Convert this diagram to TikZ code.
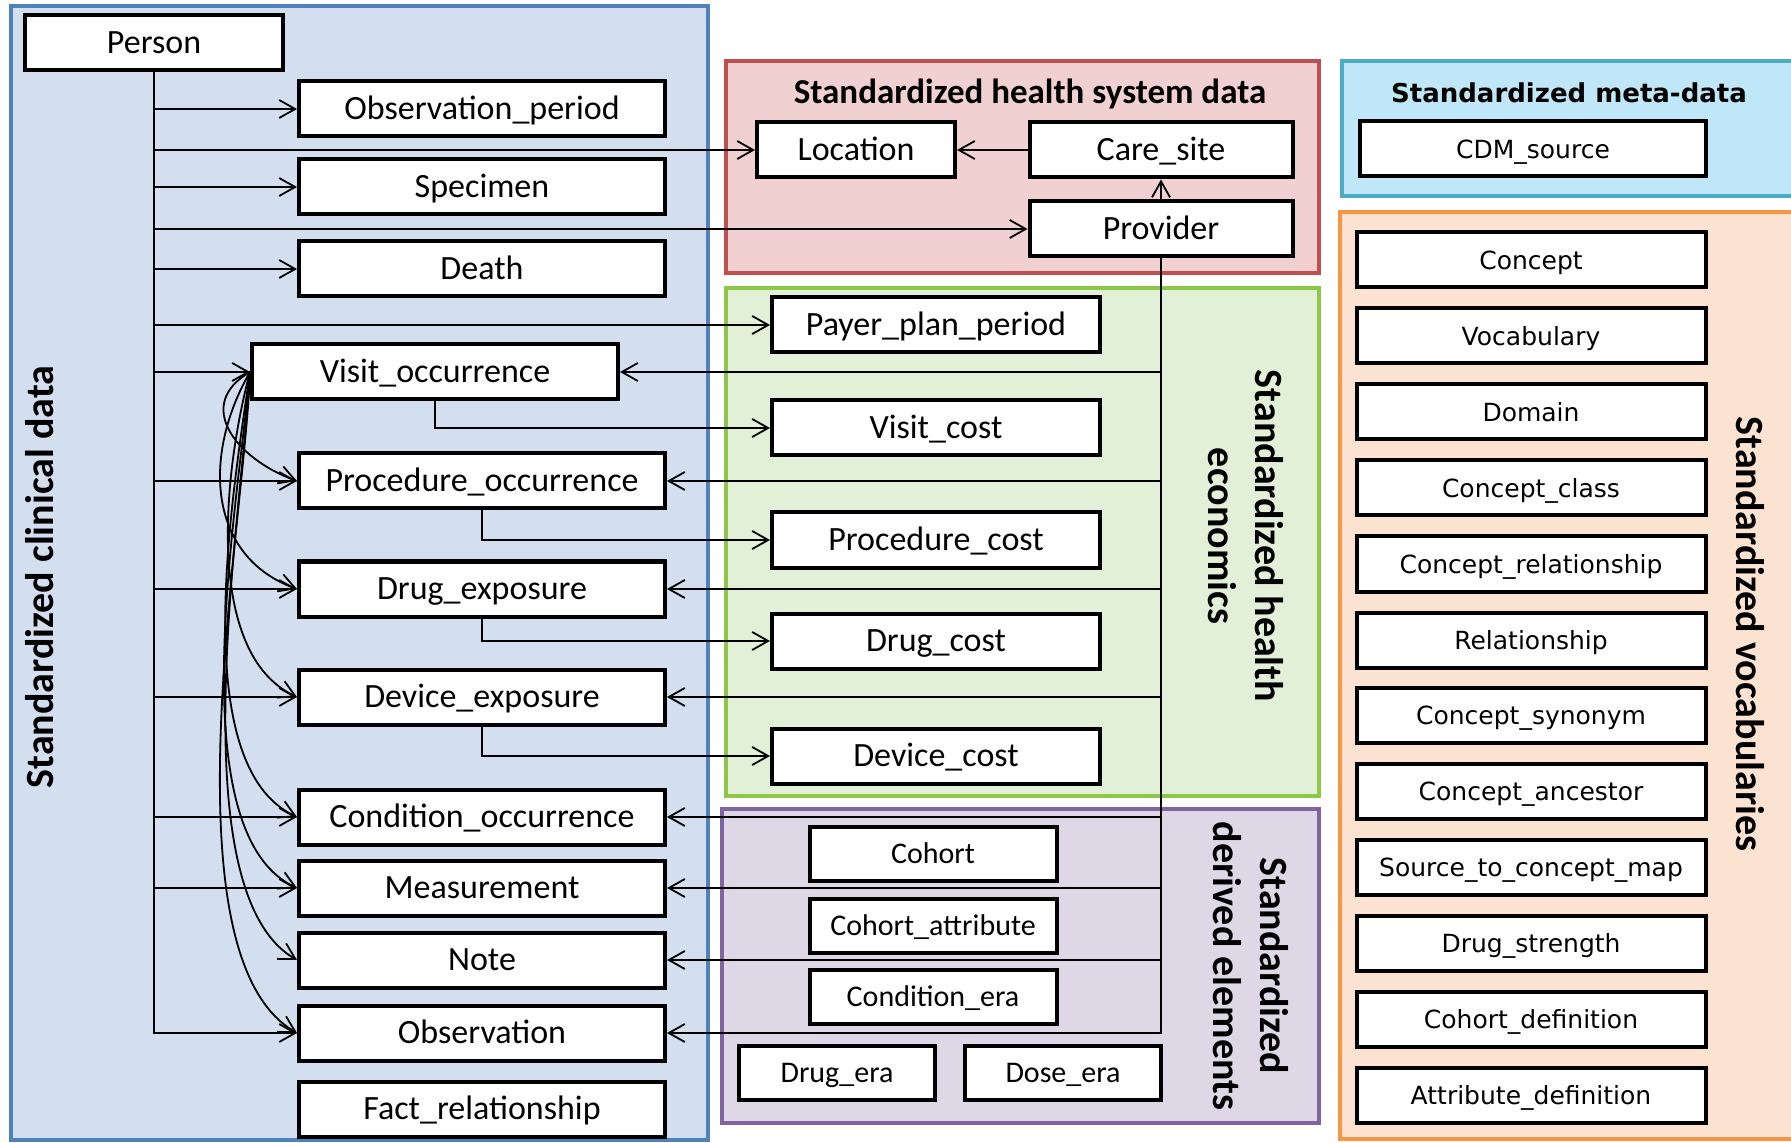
\documentclass[tikz,border=0pt]{standalone}
\usepackage{fontspec}
\setmainfont{Carlito}
\newfontfamily\vocabfont{DejaVu Sans}
\usetikzlibrary{arrows.meta}

\definecolor{clinfill}{RGB}{211,222,238}
\definecolor{clinline}{RGB}{79,129,189}
\definecolor{sysfill}{RGB}{241,208,210}
\definecolor{sysline}{RGB}{192,80,77}
\definecolor{econfill}{RGB}{227,240,216}
\definecolor{econline}{RGB}{140,200,70}
\definecolor{derivfill}{RGB}{221,215,230}
\definecolor{derivline}{RGB}{128,100,162}
\definecolor{metafill}{RGB}{191,231,247}
\definecolor{metaline}{RGB}{75,172,198}
\definecolor{vocabfill}{RGB}{252,227,209}
\definecolor{vocabline}{RGB}{247,150,70}

\begin{document}
\begin{tikzpicture}[x=0.5pt, y=-0.5pt,
    tbl/.style={draw, line width=2pt, fill=white, inner sep=0pt, minimum width=183pt, minimum height=27.5pt, text height=14.3pt, text depth=3.4pt, font=\fontsize{17}{20}\selectfont},
    costtbl/.style={tbl, minimum width=164pt},
    derivtbl/.style={tbl, minimum width=123.5pt, minimum height=27pt, text height=12.6pt, text depth=3pt, font=\fontsize{15}{18}\selectfont},
    voctbl/.style={tbl, minimum width=174.5pt, text height=12.1pt, text depth=3pt, font=\fontsize{12.5}{15}\vocabfont},
    link/.style={line width=0.9pt, -{Straight Barb[length=8pt,width=9pt]}},
    panel/.style={line width=1.9pt},
    grouptitle/.style={font=\fontsize{17.5}{21}\selectfont\bfseries},
    sidetitle/.style={font=\fontsize{20}{23.5}\selectfont\bfseries, align=center}]

    \useasboundingbox (0,0) rectangle (1791,1143);
    \clip (0,0) rectangle (1791,1143);

    % panels
    \draw[panel, clinline, fill=clinfill] (11,6) rectangle (708,1140);
    \draw[panel, sysline, fill=sysfill] (726,61) rectangle (1319,273);
    \draw[panel, econline, fill=econfill] (726,288) rectangle (1319,796);
    \draw[panel, derivline, fill=derivfill] (722,809) rectangle (1319,1123);
    \draw[panel, metaline, fill=metafill] (1342,61) rectangle (1800,196);
    \draw[panel, vocabline, fill=vocabfill] (1340,212) rectangle (1800,1139);

    \node[sidetitle, rotate=90] (clintitle) at (40,577) {Standardized clinical data};
    \node[grouptitle] (systitle) at (1030,94) {Standardized health system data};
    \node[sidetitle, rotate=-90] (econtitle) at (1246,536) {Standardized health\\economics};
    \node[sidetitle, rotate=-90] (derivtitle) at (1251,966) {Standardized\\derived elements};
    \node[font=\fontsize{13}{16}\vocabfont\bfseries] (metatitle) at (1569,93) {Standardized meta-data};
    \node[sidetitle, rotate=-90] (vocabtitle) at (1750,634) {Standardized vocabularies};

    % clinical data
    \node[tbl, minimum width=129pt] (person) at (154,43) {Person};
    \node[tbl] (obsperiod) at (482,109) {Observation\_period};
    \node[tbl] (specimen) at (482,187) {Specimen};
    \node[tbl] (death) at (482,269) {Death};
    \node[tbl] (visit) at (435,372) {Visit\_occurrence};
    \node[tbl] (proc) at (482,481) {Procedure\_occurrence};
    \node[tbl] (drug) at (482,589) {Drug\_exposure};
    \node[tbl] (device) at (482,697) {Device\_exposure};
    \node[tbl] (cond) at (482,817) {Condition\_occurrence};
    \node[tbl] (meas) at (482,888) {Measurement};
    \node[tbl] (note) at (482,960) {Note};
    \node[tbl] (obs) at (482,1033) {Observation};
    \node[tbl] (fact) at (482,1109) {Fact\_relationship};

    % health system
    \node[tbl, minimum width=99pt] (location) at (856,150) {Location};
    \node[tbl, minimum width=131.5pt] (caresite) at (1161,150) {Care\_site};
    \node[tbl, minimum width=131.5pt] (provider) at (1161,229) {Provider};

    % health economics
    \node[costtbl] (payer) at (936,325) {Payer\_plan\_period};
    \node[costtbl] (visitcost) at (936,428) {Visit\_cost};
    \node[costtbl] (proccost) at (936,540) {Procedure\_cost};
    \node[costtbl] (drugcost) at (936,641) {Drug\_cost};
    \node[costtbl] (devicecost) at (936,756) {Device\_cost};

    % derived elements
    \node[derivtbl] (cohort) at (933,854) {Cohort};
    \node[derivtbl] (cohortattr) at (933,926) {Cohort\_attribute};
    \node[derivtbl] (condera) at (933,997) {Condition\_era};
    \node[derivtbl, minimum width=98pt] (drugera) at (837,1073) {Drug\_era};
    \node[derivtbl, minimum width=98pt] (doseera) at (1063,1073) {Dose\_era};

    % meta-data and vocabularies
    \node[voctbl, minimum width=173pt] (cdmsource) at (1533,149) {CDM\_source};
    \node[voctbl] (concept) at (1531,260) {Concept};
    \node[voctbl] (vocab) at (1531,336) {Vocabulary};
    \node[voctbl] (domain) at (1531,412) {Domain};
    \node[voctbl] (conceptclass) at (1531,488) {Concept\_class};
    \node[voctbl] (conceptrel) at (1531,564) {Concept\_relationship};
    \node[voctbl] (relationship) at (1531,640) {Relationship};
    \node[voctbl] (synonym) at (1531,715) {Concept\_synonym};
    \node[voctbl] (ancestor) at (1531,791) {Concept\_ancestor};
    \node[voctbl] (sourcemap) at (1531,867) {Source\_to\_concept\_map};
    \node[voctbl] (strength) at (1531,943) {Drug\_strength};
    \node[voctbl] (cohortdef) at (1531,1019) {Cohort\_definition};
    \node[voctbl] (attrdef) at (1531,1095) {Attribute\_definition};

    % person trunk
    \draw[link] (person.south) |- (obsperiod.west);
    \draw[link] (person.south) |- (location.west);
    \draw[link] (person.south) |- (specimen.west);
    \draw[link] (person.south) |- (provider.west);
    \draw[link] (person.south) |- (death.west);
    \draw[link] (person.south) |- (payer.west);
    \draw[link] (person.south) |- (visit.west);
    \draw[link] (person.south) |- (proc.west);
    \draw[link] (person.south) |- (drug.west);
    \draw[link] (person.south) |- (device.west);
    \draw[link] (person.south) |- (cond.west);
    \draw[link] (person.south) |- (meas.west);
    \draw[link] (person.south) |- (obs.west);

    % visit links
    \draw[link] (visit.west) to[out=210, in=160, looseness=1.4] (proc.west);
    \draw[link] (visit.west) to[out=240, in=160, looseness=1.1] (drug.west);
    \draw[link] (visit.west) to[out=255, in=155, looseness=0.8] (device.west);
    \draw[link] (visit.west) to[out=262, in=155, looseness=0.7] (cond.west);
    \draw[link] (visit.west) to[out=265, in=155, looseness=0.65] (meas.west);
    \draw[link] (visit.west) to[out=267, in=150, looseness=0.6] (note.west);
    \draw[link] (visit.west) to[out=268, in=150, looseness=0.6] (obs.west);

    % provider and care site
    \draw[link] (provider) -- (caresite);
    \draw[link] (caresite) -- (location);
    \draw[link] (provider.south) |- (visit.east);
    \draw[link] (provider.south) |- (proc.east);
    \draw[link] (provider.south) |- (drug.east);
    \draw[link] (provider.south) |- (device.east);
    \draw[link] (provider.south) |- (cond.east);
    \draw[link] (provider.south) |- (meas.east);
    \draw[link] (provider.south) |- (note.east);
    \draw[link] (provider.south) |- (obs.east);

    % costs
    \draw[link] (visit.south) |- (visitcost.west);
    \draw[link] (proc.south) |- (proccost.west);
    \draw[link] (drug.south) |- (drugcost.west);
    \draw[link] (device.south) |- (devicecost.west);
\end{tikzpicture}
\end{document}
